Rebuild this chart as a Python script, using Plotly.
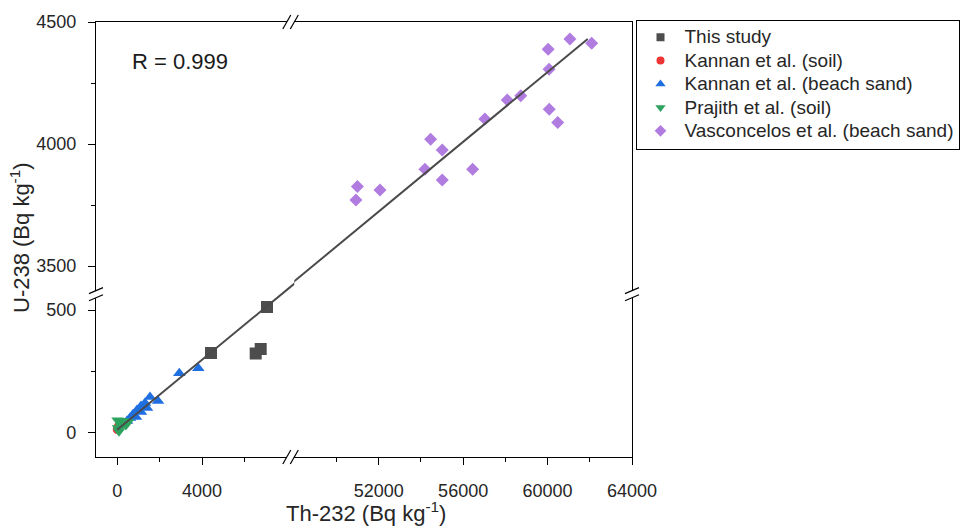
import plotly.graph_objects as go

# ---------------- data ----------------
THIS_STUDY_X = [4425, 6533, 6769, 7066]
THIS_STUDY_Y = [325, 323, 341, 512]

KANNAN_SOIL_X = [5, 30, 60]
KANNAN_SOIL_Y = [12, 20, 25]

KANNAN_SAND_X = [2929, 3825, 1925, 1547, 1311, 1123, 934, 745, 604, 887, 462, 1123, 1406]
KANNAN_SAND_Y = [242, 262, 129, 145, 120, 108, 92, 75, 59, 63, 47, 84, 100]

PRAJITH_X = [20, 40, 85, 130, 180, 230, 320, 410, 510]
PRAJITH_Y = [50, 18, 5, 47, 27, 32, 47, 31, 43]

VASCON_X = [50990, 50920, 52060, 54190, 54460, 55010, 55010, 56450, 57030,
            58090, 58730, 60030, 60070, 60080, 60480, 61060, 62090]
VASCON_Y = [3826, 3771, 3812, 3897, 4020, 3976, 3853, 3897, 4103,
            4181, 4198, 4388, 4306, 4143, 4088, 4430, 4413]

FIT_INTERCEPT = 11
FIT_SLOPE = 0.0714
FIT_X = [0, 61900]
R_TEXT = "R = 0.999"

X_LEFT_TICKS = [0, 4000]
X_LEFT_MINOR = [2000, 6000]
X_RIGHT_TICKS = [52000, 56000, 60000, 64000]
X_RIGHT_MINOR = [50000, 54000, 58000, 62000]
Y_LOW_TICKS = [0, 500]
Y_LOW_MINOR = [250]
Y_HIGH_TICKS = [3500, 4000, 4500]
Y_HIGH_MINOR = [3750, 4250]

X_LEFT_RANGE = [-1000, 8000]
X_RIGHT_RANGE = [48000, 64000]
Y_LOW_RANGE = [-100, 550]
Y_HIGH_RANGE = [3400, 4500]

NAMES = ["This study", "Kannan et al. (soil)", "Kannan et al. (beach sand)",
         "Prajith et al. (soil)", "Vasconcelos et al. (beach sand)"]
COLORS = ["#4d4d4d", "#ec3434", "#1f6fe0", "#2ea35f", "#b07ce0"]
SYMBOLS = ["square", "circle", "triangle-up", "triangle-down", "diamond"]

FIT_Y = [FIT_INTERCEPT + FIT_SLOPE * x for x in FIT_X]

# ---------------- geometry (pixels) ----------------
FW, FH = 963, 526
L, R, T, B = 96, 632, 22, 457
W, H = R - L, B - T


def fx(px):
    return (px - L) / W


def fy(py):
    return (B - py) / H


XL_END = 286.8
XR_START = 294.3
YL_END = 297.8
YH_START = 290.6

dom_xl = [0, fx(XL_END)]
dom_xr = [fx(XR_START), 1]
dom_yl = [0, fy(YL_END)]
dom_yh = [fy(YH_START), 1]

# extended axes in the same scale as the lower-left panel, to carry the fit line across the break
sx = (X_LEFT_RANGE[1] - X_LEFT_RANGE[0]) / (dom_xl[1] - dom_xl[0])
dom_x5 = [0, dom_xr[0]]
range_x5 = [X_LEFT_RANGE[0], X_LEFT_RANGE[0] + sx * dom_x5[1]]
y_at_break = FIT_INTERCEPT + FIT_SLOPE * X_RIGHT_RANGE[0]
dom_y5_end = dom_yh[0] + (y_at_break - Y_HIGH_RANGE[0]) / (Y_HIGH_RANGE[1] - Y_HIGH_RANGE[0]) * (dom_yh[1] - dom_yh[0])
sy = (Y_LOW_RANGE[1] - Y_LOW_RANGE[0]) / (dom_yl[1] - dom_yl[0])
dom_y5 = [0, dom_y5_end]
range_y5 = [Y_LOW_RANGE[0], Y_LOW_RANGE[0] + sy * dom_y5_end]

FONT = "Liberation Sans, Arial, sans-serif"
TXT = "#262626"

fig = go.Figure()

# data traces
series = [
    (THIS_STUDY_X, THIS_STUDY_Y, "x", "y", 12),
    (KANNAN_SOIL_X, KANNAN_SOIL_Y, "x", "y", 9),
    (KANNAN_SAND_X, KANNAN_SAND_Y, "x", "y", 11),
    (PRAJITH_X, PRAJITH_Y, "x", "y", 11),
    (VASCON_X, VASCON_Y, "x4", "y4", 10),
]
for i, (xs, ys, xa, ya, sz) in enumerate(series):
    fig.add_trace(go.Scatter(x=xs, y=ys, xaxis=xa, yaxis=ya, mode="markers",
                             marker=dict(symbol=SYMBOLS[i], size=sz, color=COLORS[i],
                                         line=dict(width=0)),
                             name=NAMES[i], showlegend=False))

# empty panels (so that their axes get drawn)
for xa, ya in (("x2", "y2"), ("x3", "y3")):
    fig.add_trace(go.Scatter(x=[None], y=[None], xaxis=xa, yaxis=ya, mode="markers",
                             showlegend=False, hoverinfo="skip"))

# fit line (top-right panel and extended lower-left panel)
fig.add_trace(go.Scatter(x=FIT_X, y=FIT_Y, xaxis="x4", yaxis="y4", mode="lines",
                         line=dict(color="#4a4a4a", width=2), showlegend=False))
fig.add_trace(go.Scatter(x=FIT_X, y=FIT_Y, xaxis="x5", yaxis="y5", mode="lines",
                         line=dict(color="#4a4a4a", width=2), showlegend=False))

# legend entries
LEG_FONT_PX = 19
leg_sizes = [8, 8, 9, 9, 9]
for i in range(5):
    fig.add_trace(go.Scatter(x=[None], y=[None], xaxis="x", yaxis="y", mode="markers",
                             marker=dict(symbol=SYMBOLS[i], size=leg_sizes[i], color=COLORS[i],
                                         line=dict(width=0)),
                             name='<span style="font-size:%dpx">%s</span>' % (LEG_FONT_PX, NAMES[i]),
                             showlegend=True))

tickfont = dict(family=FONT, size=18, color=TXT)
base = dict(showline=True, linecolor="black", linewidth=1.3, showgrid=False,
            zeroline=False, tickfont=tickfont, fixedrange=True)
tick_on = dict(ticks="outside", ticklen=7, tickwidth=1.3, tickcolor="black")
tick_off = dict(ticks="", showticklabels=False)


def minor(vals):
    return dict(tickvals=vals, ticks="outside", ticklen=4, tickwidth=1.3, tickcolor="black")


fig.update_layout(
    width=FW, height=FH,
    margin=dict(l=L, r=FW - R, t=T, b=FH - B, autoexpand=False),
    paper_bgcolor="white", plot_bgcolor="rgba(0,0,0,0)",
    font=dict(family=FONT, color=TXT),
    xaxis=dict(**base, **tick_on, domain=dom_xl, range=X_LEFT_RANGE, anchor="y",
               tickvals=X_LEFT_TICKS, ticktext=[str(v) for v in X_LEFT_TICKS],
               minor=minor(X_LEFT_MINOR), ticklabelstandoff=10),
    yaxis=dict(**base, **tick_on, domain=dom_yl, range=Y_LOW_RANGE, anchor="x",
               tickvals=Y_LOW_TICKS, ticktext=[str(v) for v in Y_LOW_TICKS],
               minor=minor(Y_LOW_MINOR), ticklabelstandoff=8),
    xaxis2=dict(**base, **tick_on, domain=dom_xr, range=X_RIGHT_RANGE, anchor="y2",
                tickvals=X_RIGHT_TICKS, ticktext=[str(v) for v in X_RIGHT_TICKS],
                minor=minor(X_RIGHT_MINOR), ticklabelstandoff=10),
    yaxis2=dict(**base, **tick_off, domain=dom_yl, range=Y_LOW_RANGE, anchor="x2", side="right"),
    xaxis3=dict(**base, **tick_off, domain=dom_xl, range=X_LEFT_RANGE, anchor="y3", side="top"),
    yaxis3=dict(**base, **tick_on, domain=dom_yh, range=Y_HIGH_RANGE, anchor="x3",
                tickvals=Y_HIGH_TICKS, ticktext=[str(v) for v in Y_HIGH_TICKS],
                minor=minor(Y_HIGH_MINOR), ticklabelstandoff=8),
    xaxis4=dict(**base, **tick_off, domain=dom_xr, range=X_RIGHT_RANGE, anchor="y4", side="top"),
    yaxis4=dict(**base, **tick_off, domain=dom_yh, range=Y_HIGH_RANGE, anchor="x4", side="right"),
    xaxis5=dict(visible=False, domain=dom_x5, range=range_x5, anchor="y5", fixedrange=True),
    yaxis5=dict(visible=False, domain=dom_y5, range=range_y5, anchor="x5", fixedrange=True),
    legend=dict(x=fx(635.5), y=fy(19.5), xanchor="left", yanchor="top",
                bordercolor="black", borderwidth=1, bgcolor="white",
                font=dict(family=FONT, size=15.7, color=TXT), itemwidth=38,
                tracegroupgap=0),
    showlegend=True,
)

# break marks "//"
shapes = []
def slash(xp, yp, dx, dy):
    shapes.append(dict(type="line", xref="paper", yref="paper",
                       xsizemode="pixel", ysizemode="pixel",
                       xanchor=fx(xp), yanchor=fy(yp),
                       x0=-dx, x1=dx, y0=-dy, y1=dy,
                       line=dict(color="black", width=1.2)))

for xp in (XL_END, XR_START):
    slash(xp, B, 4, 7)
    slash(xp, T, 4, 7)
for yp in (YL_END, YH_START):
    slash(L, yp, 7, 3)
    slash(R, yp, 7, 3)
fig.update_layout(shapes=shapes)

fig.add_annotation(x=fx(130), y=fy(61.5), xref="paper", yref="paper", text=R_TEXT,
                   showarrow=False, xanchor="left", yanchor="middle",
                   font=dict(family=FONT, size=22, color="#1a1a1a"))
fig.add_annotation(x=fx(366), y=fy(512), xref="paper", yref="paper",
                   text="Th-232 (Bq kg<sup>-1</sup>)", showarrow=False,
                   xanchor="center", yanchor="middle",
                   font=dict(family=FONT, size=22, color=TXT))
fig.add_annotation(x=fx(20), y=fy(238), xref="paper", yref="paper",
                   text="U-238 (Bq kg<sup>-1</sup>)", showarrow=False, textangle=-90,
                   xanchor="center", yanchor="middle",
                   font=dict(family=FONT, size=22, color=TXT))

fig.write_html("out.html", config={"displayModeBar": False},
               post_script="document.body.style.margin='0px';document.body.style.overflow='hidden';")
